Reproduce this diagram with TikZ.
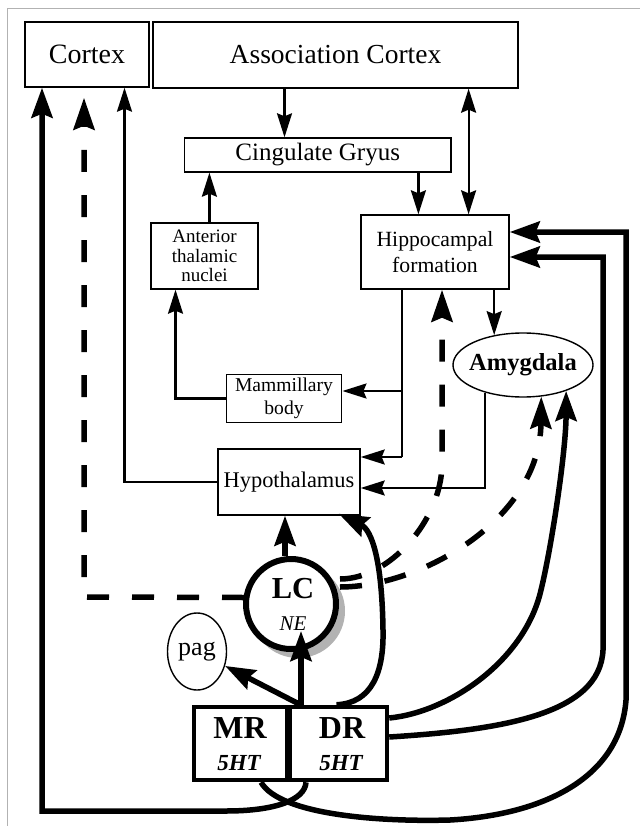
\documentclass[tikz,border=0pt]{standalone}
\usepackage{fontspec}
\setmainfont{Liberation Serif}
\usetikzlibrary{arrows.meta,shapes.geometric}
\begin{document}
\begin{tikzpicture}[x=1pt,y=-1pt,
  box/.style={draw, line width=1.4pt, rectangle, inner sep=0pt, align=center},
  tarr/.style={line width=2.2pt, -{Stealth[length=24pt,width=15pt,inset=3pt]}},
  tarrb/.style={line width=2.2pt, {Stealth[length=24pt,width=15pt,inset=3pt]}-{Stealth[length=24pt,width=15pt,inset=3pt]}},
  tline/.style={line width=2.2pt},
  karr/.style={line width=5.5pt, -{Stealth[length=30pt,width=21pt,inset=4pt]}},
  darr/.style={line width=5.5pt, dash pattern=on 22pt off 23pt, -{Stealth[length=32pt,width=21pt,inset=4pt]}},
  heavybox/.style={draw, line width=4.5pt, rectangle, inner sep=0pt, minimum height=73pt},
]
\useasboundingbox (0,0) rectangle (640,826);
% frame
\draw[gray!60, line width=1pt] (7,826) -- (7,9) -- (640,9);

% boxes
\node[box, minimum width=124pt, minimum height=65pt, font=\fontsize{28}{30}\selectfont] (cortex) at (87,54.5) {Cortex};
\node[box, minimum width=365pt, minimum height=66pt, font=\fontsize{27.5}{30}\selectfont] (assoc) at (335.5,55) {Association Cortex};
\node[box, minimum width=266.5pt, minimum height=34pt, font=\fontsize{25}{27}\selectfont] (cing) at (317.75,155) {Cingulate Gryus};
\node[box, minimum width=107pt, minimum height=66pt, font=\fontsize{19}{19.5}\selectfont] (ant) at (204.5,256) {Anterior\\thalamic\\nuclei};
\node[box, minimum width=148pt, minimum height=74pt, font=\fontsize{21.7}{26.7}\selectfont] (hipp) at (435,252) {Hippocampal\\formation};
\node[box, minimum width=115.5pt, minimum height=48pt, font=\fontsize{19.6}{23.3}\selectfont] (mam) at (284,398.5) {Mammillary\\body};
\node[box, minimum width=142pt, minimum height=66pt, font=\fontsize{22.4}{24}\selectfont] (hypo) at (289,482) {Hypothalamus};
\node[ellipse, draw, line width=1.4pt, minimum width=140pt, minimum height=64pt, inner sep=0pt] (amyg) at (523,365) {};
\node[font=\bfseries\fontsize{24.5}{26}\selectfont] (amygT) at (amyg.center) {Amygdala};
\node[ellipse, draw, line width=1.4pt, minimum width=59pt, minimum height=77pt, inner sep=0pt, font=\fontsize{26}{28}\selectfont] (pag) at (197,651.5) {pag};

% LC with shadow
\fill[gray!60] (298,611) circle (47pt);
\node[circle, draw, line width=6pt, fill=white, minimum size=90pt, inner sep=0pt] (LC) at (291,604) {};
\node[anchor=base, font=\bfseries\fontsize{30.5}{31}\selectfont] (lcT) at (293,598) {LC};
\node[anchor=base, font=\itshape\fontsize{21}{22}\selectfont] (neT) at (293,630) {NE};

% MR / DR
\node[heavybox, minimum width=94pt] (MR) at (241,743.5) {};
\node[heavybox, minimum width=99pt] (DR) at (337.5,743.5) {};
\draw[line width=7pt] (288,707) -- (288,780);
\node[anchor=base, font=\bfseries\fontsize{32}{33}\selectfont] (mrT) at (240,738) {MR};
\node[anchor=base, font=\bfseries\itshape\fontsize{23}{24}\selectfont] (mr5) at (239,770) {5HT};
\node[anchor=base, font=\bfseries\fontsize{32}{33}\selectfont] (drT) at (342,738) {DR};
\node[anchor=base, font=\bfseries\itshape\fontsize{23}{24}\selectfont] (dr5) at (341,770) {5HT};

% helper x positions
\coordinate (cA) at (42,811);
\coordinate (cB) at (84,597);
\coordinate (cC) at (124.5,482);
\coordinate (xa) at (284.5,0);
\coordinate (xb) at (468.6,0);
\coordinate (xc) at (418.4,0);
\coordinate (xd) at (209.4,0);
\coordinate (xe) at (175.5,0);
\coordinate (hv) at (402,391);
\coordinate (hw) at (402,457);
\coordinate (ag2) at (0,488);
\coordinate (xg) at (285,0);
\coordinate (xh) at (442,0);
\coordinate (r1) at (603,257);
\coordinate (r2) at (626,232);
\coordinate (jn) at (301,705);

% to cortex
\draw[karr] ([xshift=-31.5pt]DR.south) .. controls (305,800) and (275,811) .. (226,811) -- (cA) -- (cA |- cortex.south);
\draw[darr] ([shift={(-47pt,6.5pt)}]LC.center) -- (cB) -- ([yshift=-10pt]cB |- cortex.south);
\draw[tarr] (hypo.west) -- (cC) -- (cC |- cortex.south);

% upper connections
\draw[tarr] (assoc.south -| xa) -- (cing.north -| xa);
\draw[tarrb] (assoc.south -| xb) -- (hipp.north -| xb);
\draw[tarr] (cing.south -| xc) -- (hipp.north -| xc);
\draw[tarr] (ant.north -| xd) -- (cing.south -| xd);
\draw[tarr] (mam.west) -- (mam.west -| xe) -- (ant.south -| xe);

% hippocampal outputs
\draw[tline] (hipp.south -| hv) -- (hw);
\draw[tarr] (hv) -- (hv -| mam.east);
\draw[tarr] (hw) -- (hw -| hypo.east);
\draw[tarr] (hipp.south -| amyg.134) -- (amyg.134);
\draw[tarr] (amyg.216) |- (hypo.east |- ag2);

% LC -> hypothalamus
\draw[karr] (LC.north -| xg) -- (hypo.south -| xg);

% from raphe
\draw[karr] (jn) -- ++(0,-74);
\draw[karr] (jn) -- (pag);
\draw[karr] ([xshift=-1pt]DR.north) .. controls (372,703) and (384,672) .. (383,630) .. controls (382,560) and (372,530) .. ([xshift=-22pt,yshift=2pt]hypo.south east);
\draw[karr] ([yshift=25.5pt]DR.east) .. controls (450,712) and (525,660) .. (541,590) .. controls (552,545) and (566,450) .. (amyg.329);
\draw[karr] ([yshift=6.5pt]DR.east) .. controls (500,730) and (600,715) .. (603,650) -- (r1) -- (r1 -| hipp.east);
\draw[karr] ([xshift=20pt]MR.south) .. controls (280,815) and (380,822) .. (450,820) .. controls (540,815) and (620,780) .. (626,700) -- (r2) -- (r2 -| hipp.east);

% dashed from LC
\draw[darr] ([shift={(49pt,25pt)}]LC.center) .. controls (390,579) and (441,520) .. (442,465) -- (hipp.south -| xh);
\draw[darr] ([shift={(49pt,17pt)}]LC.center) .. controls (420,587) and (540,520) .. (amyg.300);
\end{tikzpicture}
\end{document}
